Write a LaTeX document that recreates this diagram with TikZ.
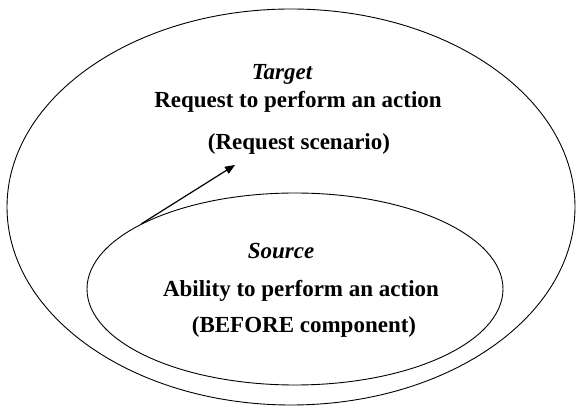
\documentclass[tikz,border=0pt]{standalone}
\usepackage{fontspec}
\setmainfont{Liberation Serif}
\usetikzlibrary{shapes.geometric,arrows.meta}
\begin{document}
\begin{tikzpicture}[x=1pt,y=1pt,
  ring/.style={draw,ellipse,line width=0.9pt,inner sep=0pt},
  lbl/.style={font=\fontsize{23}{26}\selectfont\bfseries,inner sep=0pt,anchor=center},
  ilbl/.style={font=\fontsize{23}{26}\selectfont\bfseries\itshape,inner sep=0pt,anchor=center}]
\useasboundingbox (0,0) rectangle (576,407);
\node[ring,minimum width=568pt,minimum height=396pt] (outer) at (291,200) {};
\node[ring,minimum width=416pt,minimum height=192pt] (inner) at (295,118) {};
\node[ilbl] (tgt) at (282,333) {Target};
\node[lbl] (req) at (298,305) {Request to perform an action};
\node[lbl] (reqs) at (299,263) {(Request scenario)};
\node[ilbl] (src) at (281,156) {Source};
\node[lbl] (abl) at (301,116) {Ability to perform an action};
\node[lbl] (bef) at (304,80) {(BEFORE component)};
\coordinate (tip) at (235,242);
\draw[line width=1.2pt,-{Triangle[length=10pt,width=8pt]}] (inner.157.6) -- (tip);
\end{tikzpicture}
\end{document}
